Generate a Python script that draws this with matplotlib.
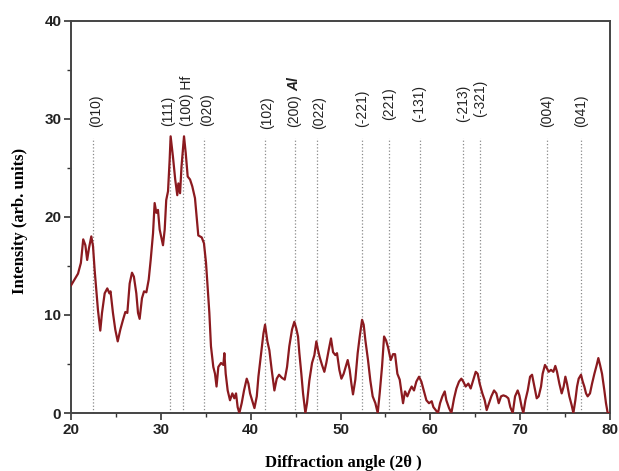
import matplotlib
matplotlib.use("Agg")
import matplotlib.pyplot as plt
from matplotlib.ticker import MultipleLocator

# XRD pattern, intensity vs 2-theta
two_theta = [
    20.0, 20.78, 21.1, 21.36, 21.6, 21.8, 22.0, 22.26, 22.45, 22.63, 22.82, 23.0,
    23.26, 23.45, 23.75, 24.04, 24.27, 24.4, 24.67, 24.93, 25.2, 25.49, 25.79,
    26.05, 26.27, 26.53, 26.79, 27.0, 27.27, 27.46, 27.64, 27.9, 28.13, 28.39,
    28.65, 28.87, 29.13, 29.31, 29.5, 29.68, 29.87, 30.24, 30.43, 30.6, 30.8,
    30.98, 31.09, 31.35, 31.6, 31.83, 31.95, 32.14, 32.3, 32.58, 32.77, 32.99,
    33.25, 33.5, 33.8, 33.99, 34.17, 34.55, 34.8, 35.03, 35.2, 35.4, 35.58,
    35.84, 36.03, 36.2, 36.4, 36.7, 36.96, 37.07, 37.22, 37.44, 37.7, 37.96,
    38.18, 38.37, 38.55, 38.74, 39.0, 39.26, 39.56, 39.75, 39.93, 40.19, 40.42,
    40.68, 40.86, 41.16, 41.42, 41.6, 41.86, 42.08, 42.34, 42.64, 42.9, 43.16,
    43.46, 43.79, 44.05, 44.3, 44.6, 44.86, 45.08, 45.27, 45.42, 45.64, 45.83,
    46.09, 46.27, 46.53, 46.83, 47.09, 47.31, 47.5, 47.68, 47.94, 48.2, 48.42,
    48.68, 48.94, 49.17, 49.43, 49.61, 49.87, 50.1, 50.35, 50.54, 50.8, 51.02,
    51.21, 51.39, 51.65, 51.91, 52.14, 52.4, 52.58, 52.77, 53.06, 53.32, 53.58,
    53.88, 54.14, 54.36, 54.62, 54.85, 55.07, 55.29, 55.59, 55.85, 56.07, 56.33,
    56.59, 56.81, 56.96, 57.18, 57.44, 57.7, 57.92, 58.18, 58.44, 58.74, 59.0,
    59.3, 59.56, 59.85, 60.15, 60.34, 60.6, 60.85, 61.08, 61.34, 61.6, 61.78,
    62.08, 62.34, 62.64, 62.9, 63.19, 63.45, 63.67, 63.93, 64.23, 64.49, 64.75,
    65.05, 65.27, 65.49, 65.79, 66.05, 66.27, 66.53, 66.79, 67.09, 67.35, 67.61,
    67.87, 68.13, 68.42, 68.68, 68.9, 69.17, 69.43, 69.72, 69.91, 70.17, 70.35,
    70.58, 70.84, 71.1, 71.32, 71.58, 71.84, 72.06, 72.32, 72.5, 72.76, 72.95,
    73.17, 73.43, 73.69, 73.91, 74.1, 74.36, 74.62, 74.84, 75.03, 75.21, 75.47,
    75.73, 75.92, 76.14, 76.33, 76.51, 76.77, 76.96, 77.14, 77.33, 77.51, 77.77,
    78.0, 78.26, 78.52, 78.7, 78.89, 79.11, 79.37, 79.55, 79.74, 80.0,
]
intensity = [
    13.0, 14.2, 15.3, 17.7, 17.1, 15.6, 16.8, 18.0, 17.0, 14.6, 12.5, 10.5,
    8.4, 10.2, 12.2, 12.7, 12.2, 12.4, 10.2, 8.5, 7.3, 8.5, 9.5,
    10.3, 10.2, 13.2, 14.3, 13.9, 12.2, 10.2, 9.6, 11.7, 12.4, 12.3,
    13.6, 15.6, 18.3, 21.4, 20.4, 20.7, 18.7, 17.1, 18.7, 21.7, 22.6,
    25.8, 28.2, 26.1, 23.8, 22.2, 23.4, 22.4, 25.1, 28.2, 26.5, 24.1,
    23.8, 23.1, 21.9, 20.0, 18.1, 17.9, 17.3, 15.3, 12.9, 10.2, 6.8,
    4.7, 4.0, 2.7, 4.7, 5.1, 4.9, 6.1, 4.0, 2.3, 1.3, 2.0,
    1.5, 2.0, 0.6, 0.0, 1.0, 2.3, 3.5, 3.0, 2.0, 1.2, 0.5,
    1.7, 3.7, 6.1, 8.1, 9.0, 7.3, 6.4, 4.4, 2.3, 3.5, 3.9,
    3.6, 3.4, 4.7, 6.8, 8.5, 9.3, 8.6, 7.8, 6.1, 4.0, 2.0,
    0.0, 1.0, 3.3, 5.1, 5.9, 7.3, 6.4, 5.7, 4.9, 4.2, 5.1,
    6.4, 7.6, 6.2, 5.9, 6.1, 4.4, 3.5, 4.0, 4.6, 5.4, 4.4,
    3.0, 1.9, 3.4, 6.1, 7.8, 9.5, 9.0, 7.4, 5.4, 3.3, 1.7,
    1.0, 0.0, 2.0, 4.7, 7.8, 7.4, 6.7, 5.4, 6.0, 6.0, 4.0,
    3.4, 2.0, 1.0, 2.2, 1.7, 2.3, 2.7, 2.3, 3.2, 3.7, 3.2,
    2.2, 1.3, 1.0, 1.2, 0.6, 0.3, 0.0, 1.0, 1.7, 2.2, 1.3,
    0.5, 0.0, 1.5, 2.5, 3.2, 3.5, 3.2, 2.7, 3.0, 2.5, 3.3,
    4.2, 4.0, 3.0, 2.0, 1.3, 0.3, 1.0, 1.7, 2.3, 2.0, 1.0,
    1.7, 1.8, 1.7, 1.5, 0.6, 0.0, 1.7, 2.3, 1.8, 0.6, 0.0,
    1.3, 2.3, 3.7, 3.9, 2.7, 1.5, 1.7, 2.7, 4.0, 4.9, 4.6,
    4.2, 4.4, 4.2, 4.8, 4.2, 3.0, 2.0, 2.7, 3.7, 3.0, 1.7,
    0.8, 0.0, 1.3, 2.7, 3.5, 3.9, 3.2, 2.7, 2.0, 1.7, 2.0,
    3.0, 4.0, 4.9, 5.6, 4.9, 4.0, 2.3, 1.0, 0.0, 0.0,
]

# reflection positions and their Miller indices
peak_pos = [22.4, 31.06, 32.5, 34.8, 41.6, 44.9, 47.4, 52.4, 55.4, 58.8,
            63.6, 65.5, 73.0, 76.8]
peak_hkl = ["(010)", "(111)", "(100) Hf", "(020)", "(102)", "(200)", "(022)",
            "(-221)", "(221)", "(-131)", "(-213)", "(-321)", "(004)", "(041)"]
label_y = [29.1, 29.3, 29.3, 29.3, 28.9, 29.1, 28.9, 29.1, 29.9, 29.7,
           29.7, 30.2, 29.1, 29.1]
label_dx = [0.4, -0.2, 0.4, 0.3, 0.2, -0.1, 0.2, 0.0, 0.0, 0.0,
            0.0, 0.0, 0.0, 0.0]

fig = plt.figure(figsize=(6.19, 4.71), dpi=100)
ax = fig.add_axes([0.1147, 0.1231, 0.8708, 0.8333])

for x in peak_pos:
    ax.plot([x, x], [0, 28.0], color="#8a8a8a", linestyle=":", linewidth=0.9, zorder=1)

ax.plot(two_theta, intensity, color="#8b1a1f", linewidth=1.6, zorder=3)

for x, s, y, dx in zip(peak_pos, peak_hkl, label_y, label_dx):
    ax.text(x + dx, y, s, rotation=90, ha="center", va="bottom",
            fontsize=10, family="Liberation Sans", color="#222222")
ax.text(44.9 - 0.1, 32.8, "Al", rotation=90, ha="center", va="bottom",
        fontsize=10, family="Liberation Sans", fontweight="bold",
        fontstyle="italic", color="#222222")

ax.set_xlim(20, 80)
ax.set_ylim(0, 40)
ax.xaxis.set_major_locator(MultipleLocator(10))
ax.xaxis.set_minor_locator(MultipleLocator(5))
ax.yaxis.set_major_locator(MultipleLocator(10))
ax.yaxis.set_minor_locator(MultipleLocator(5))
ax.tick_params(which="both", direction="out", top=False, right=False, color="#333333")
ax.tick_params(which="major", length=5, width=1.2, pad=2)
ax.tick_params(which="minor", length=3, width=1.0)
for lab in ax.get_xticklabels() + ax.get_yticklabels():
    lab.set_fontfamily("Liberation Sans")
    lab.set_fontweight("bold")
    lab.set_fontsize(11)
    lab.set_color("#222222")

for sp in ax.spines.values():
    sp.set_linewidth(1.4)
    sp.set_color("#444444")

ax.set_xlabel("Diffraction angle (2\u03b8 )", family="Liberation Serif",
              fontweight="bold", fontsize=12)
ax.set_ylabel("Intensity (arb. units)", family="Liberation Serif",
              fontweight="bold", fontsize=12)
ax.xaxis.set_label_coords(0.505, -0.107)
ax.yaxis.set_label_coords(-0.079, 0.489)

fig.savefig("out.png", dpi=100)
